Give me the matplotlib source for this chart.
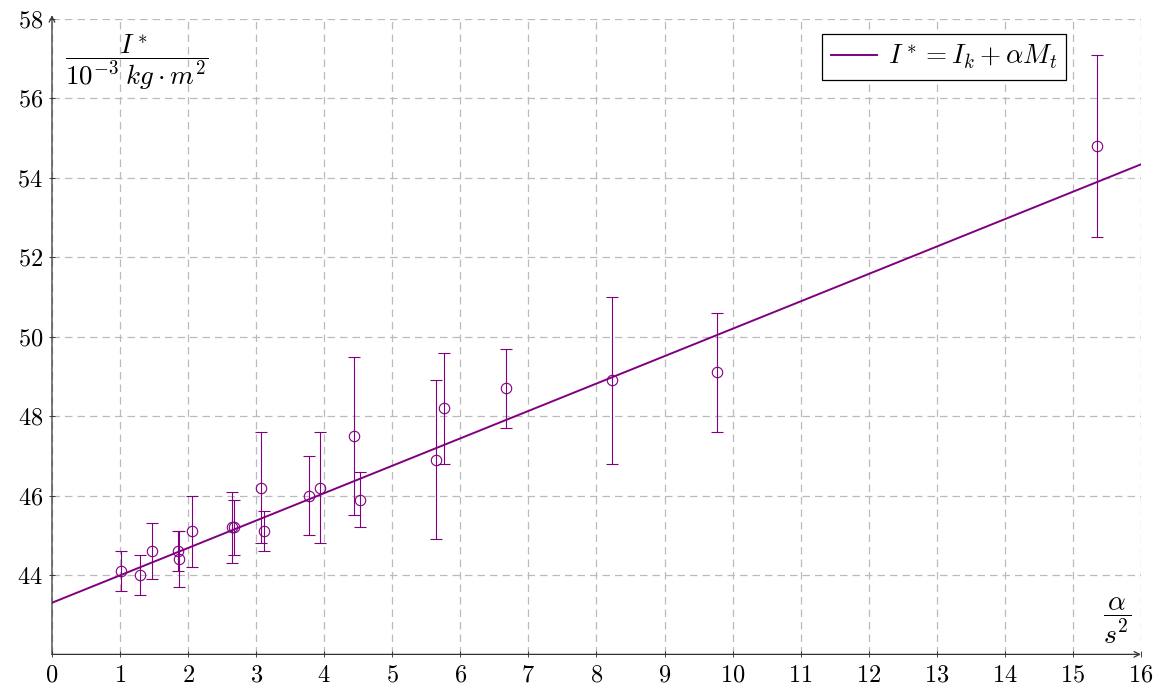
import numpy as np
import matplotlib
matplotlib.use("Agg")
import matplotlib.pyplot as plt

# measured moment of inertia vs angular acceleration
alpha = [1.01, 1.30, 1.47, 1.85, 1.87, 2.06, 2.65, 2.67, 3.07, 3.11,
         3.77, 3.94, 4.44, 4.52, 5.64, 5.76, 6.67, 8.23, 9.77, 15.36]
inertia = [44.1, 44.0, 44.6, 44.6, 44.4, 45.1, 45.2, 45.2, 46.2, 45.1,
           46.0, 46.2, 47.5, 45.9, 46.9, 48.2, 48.7, 48.9, 49.1, 54.8]
inertia_err = [0.5, 0.5, 0.7, 0.5, 0.7, 0.9, 0.9, 0.7, 1.4, 0.5,
               1.0, 1.4, 2.0, 0.7, 2.0, 1.4, 1.0, 2.1, 1.5, 2.3]

# fitted line I* = I_k + alpha * M_t
fit_Ik = 43.30
fit_Mt = 0.690

x_ticks = list(range(0, 17))
y_ticks = list(range(44, 59, 2))

plt.rcParams['font.family'] = 'serif'
plt.rcParams['font.serif'] = ['cmr10', 'DejaVu Serif']
plt.rcParams['mathtext.fontset'] = 'cm'
plt.rcParams['axes.formatter.use_mathtext'] = True

purple = '#800080'

fig = plt.figure(figsize=(11.6, 6.91), dpi=100)
ax = fig.add_axes([0.0448, 0.0530, 0.9388, 0.9195])

ax.set_xlim(0, 16)
ax.set_ylim(42, 58)

xs = np.array(ax.get_xlim())
ax.plot(xs, fit_Ik + fit_Mt * xs, color=purple, lw=1.4,
        label=r'$I^* = I_k + \alpha M_t$', zorder=3)

ax.errorbar(alpha, inertia, yerr=inertia_err, fmt='o', ms=7.5, mfc='none',
            mec=purple, mew=0.8, ecolor=purple, elinewidth=0.8,
            capsize=4.5, capthick=0.8, zorder=4)

ax.set_xticks(x_ticks)
ax.set_yticks(y_ticks)
ax.tick_params(direction='inout', length=5, width=0.6, labelsize=17.5,
               colors='#222222', labelcolor='black')
ax.tick_params(axis='x', pad=5)
ax.tick_params(axis='y', pad=4)
ax.grid(True, color='#bbbbbb', linestyle=(0, (6, 4)), lw=0.9)
ax.set_axisbelow(True)

for s in ax.spines.values():
    s.set_visible(False)
ax.annotate('', xy=(1.0, 0), xytext=(0, 0), xycoords='axes fraction',
            arrowprops=dict(arrowstyle='->', lw=0.9, color='#333333',
                            shrinkA=0, shrinkB=0))
ax.annotate('', xy=(0, 1.006), xytext=(0, 0), xycoords='axes fraction',
            arrowprops=dict(arrowstyle='->', lw=0.9, color='#333333',
                            shrinkA=0, shrinkB=0))

ax.text(0.078, 0.933, r'$\dfrac{I^*}{10^{-3}\;kg\cdot m^2}$', transform=ax.transAxes,
        ha='center', va='center', fontsize=19.5)
ax.text(0.978, 0.052, r'$\dfrac{\alpha}{s^2}$', transform=ax.transAxes,
        ha='center', va='center', fontsize=20)

leg = ax.legend(loc='upper right', bbox_to_anchor=(0.931, 0.9764), fontsize=19.5,
                fancybox=False, framealpha=1, edgecolor='black',
                handlelength=1.7, handletextpad=0.4, borderpad=0.33,
                borderaxespad=0)
leg.get_frame().set_linewidth(0.9)

fig.savefig('out.png', dpi=100)
